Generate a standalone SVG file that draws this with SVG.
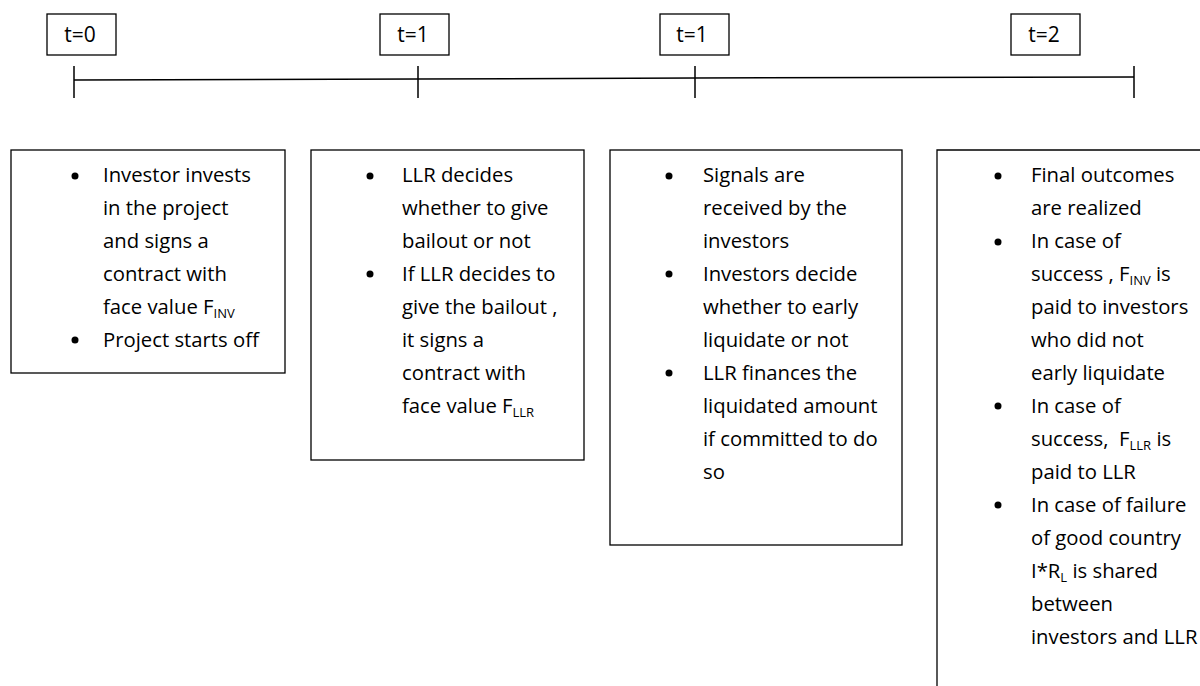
<svg xmlns="http://www.w3.org/2000/svg" width="1200" height="686" viewBox="0 0 1200 686">
<style>
.box{fill:#fff;stroke:#000;stroke-width:1.3}
.tl{stroke:#000;stroke-width:1.5;fill:none}
text{font-family:"Open Sans","Liberation Sans",sans-serif;font-size:20.3px;fill:#000}
.lab{text-anchor:middle;font-size:21px}
.sub{font-size:13px}
.b{fill:#000}
</style>
<rect width="1200" height="686" fill="#fff"/>
<g id="timeline">
<path class="tl" d="M74,80 L418,79 L695,78 L1134,77"/>
<path class="tl" d="M74,66 V98 M418,66 V98 M695,66 V98 M1134,66 V98"/>
</g>
<g id="label-t0"><rect class="box" x="47" y="14" width="69" height="41"/><text class="lab" x="80" y="42">t=0</text></g>
<g id="label-t1a"><rect class="box" x="380" y="14" width="69" height="41"/><text class="lab" x="413" y="42">t=1</text></g>
<g id="label-t1b"><rect class="box" x="660" y="14" width="69" height="41"/><text class="lab" x="692" y="42">t=1</text></g>
<g id="label-t2"><rect class="box" x="1011" y="14" width="69" height="41"/><text class="lab" x="1044" y="42">t=2</text></g>
<g id="box-t0">
<rect class="box" x="11" y="150" width="274" height="223"/>
<circle class="b" cx="75" cy="176" r="3.5"/><circle class="b" cx="75" cy="340" r="3.5"/>
<text x="103" y="182">Investor invests</text>
<text x="103" y="215">in the project</text>
<text x="103" y="248">and signs a</text>
<text x="103" y="281">contract with</text>
<text x="103" y="314">face value F<tspan class="sub" dy="4">INV</tspan></text>
<text x="103" y="347">Project starts off</text>
</g>
<g id="box-t1a">
<rect class="box" x="311" y="150" width="273" height="310"/>
<circle class="b" cx="370" cy="176" r="3.5"/><circle class="b" cx="370" cy="274" r="3.5"/>
<text x="402" y="182">LLR decides</text>
<text x="402" y="215">whether to give</text>
<text x="402" y="248">bailout or not</text>
<text x="402" y="281">If LLR decides to</text>
<text x="402" y="314">give the bailout ,</text>
<text x="402" y="347">it signs a</text>
<text x="402" y="380">contract with</text>
<text x="402" y="413">face value F<tspan class="sub" dy="4">LLR</tspan></text>
</g>
<g id="box-t1b">
<rect class="box" x="610" y="150" width="292" height="395"/>
<circle class="b" cx="669" cy="176" r="3.5"/><circle class="b" cx="669" cy="274" r="3.5"/><circle class="b" cx="669" cy="373" r="3.5"/>
<text x="703" y="182">Signals are</text>
<text x="703" y="215">received by the</text>
<text x="703" y="248">investors</text>
<text x="703" y="281">Investors decide</text>
<text x="703" y="314">whether to early</text>
<text x="703" y="347">liquidate or not</text>
<text x="703" y="380">LLR finances the</text>
<text x="703" y="413">liquidated amount</text>
<text x="703" y="446">if committed to do</text>
<text x="703" y="479">so</text>
</g>
<g id="box-t2">
<path class="tl" style="stroke-width:1.3" d="M937,686 V150 H1200"/>
<circle class="b" cx="998" cy="176" r="3.5"/><circle class="b" cx="998" cy="242" r="3.5"/><circle class="b" cx="998" cy="406" r="3.5"/><circle class="b" cx="998" cy="505" r="3.5"/>
<text x="1031" y="182">Final outcomes</text>
<text x="1031" y="215">are realized</text>
<text x="1031" y="248">In case of</text>
<text x="1031" y="281">success , F<tspan class="sub" dy="4">INV</tspan><tspan dy="-4"> is</tspan></text>
<text x="1031" y="314">paid to investors</text>
<text x="1031" y="347">who did not</text>
<text x="1031" y="380">early liquidate</text>
<text x="1031" y="413">In case of</text>
<text x="1031" y="446" style="white-space:pre">success,  F<tspan class="sub" dy="4">LLR</tspan><tspan dy="-4"> is</tspan></text>
<text x="1031" y="479">paid to LLR</text>
<text x="1031" y="512">In case of failure</text>
<text x="1031" y="545">of good country</text>
<text x="1031" y="578">I*R<tspan class="sub" dy="4">L</tspan><tspan dy="-4"> is shared</tspan></text>
<text x="1031" y="611">between</text>
<text x="1031" y="644">investors and LLR</text>
</g>
</svg>
